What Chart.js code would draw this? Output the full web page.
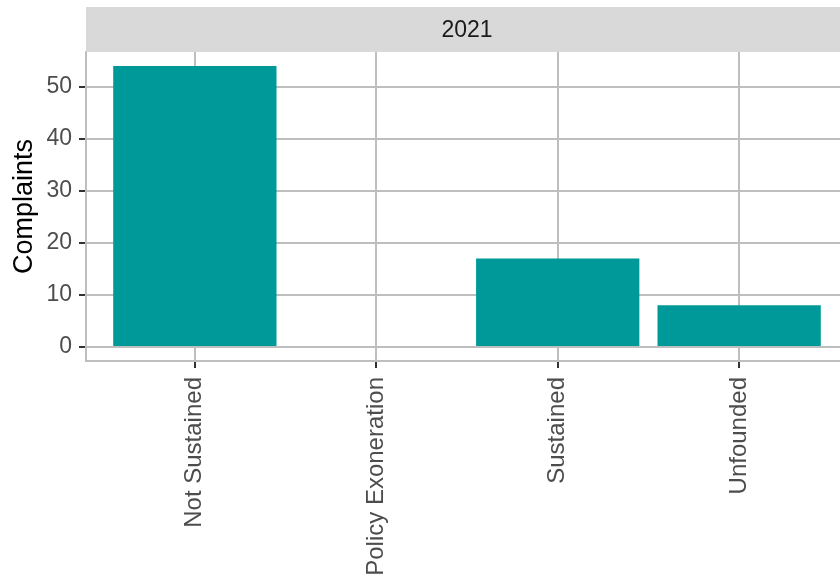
<!DOCTYPE html>
<html>
<head>
<meta charset="utf-8">
<script src="https://cdn.jsdelivr.net/npm/chart.js@4"></script>
<style>
  html, body { margin: 0; padding: 0; overflow: hidden; background: #ffffff; }
  canvas { display: block; }
</style>
</head>
<body>
<canvas id="c" width="850" height="576"></canvas>
<script>
const facetLabel = "2021";
const categories = ["Not Sustained", "Policy Exoneration", "Sustained", "Unfounded"];
const complaints = [54, 0, 17, 8];
const yTicks = [0, 10, 20, 30, 40, 50];

const FONT = "'Liberation Sans', Arial, sans-serif";

const stripPlugin = {
  id: 'strip',
  afterDraw(chart) {
    const ctx = chart.ctx;
    const a = chart.chartArea;
    ctx.save();
    ctx.fillStyle = '#d9d9d9';
    ctx.fillRect(a.left, 7, a.right - a.left, a.top - 7);
    ctx.fillStyle = '#1a1a1a';
    ctx.font = '23px ' + FONT;
    ctx.textAlign = 'center';
    ctx.textBaseline = 'middle';
    ctx.fillText(facetLabel, (a.left + a.right) / 2, (7 + a.top) / 2 + 1);
    ctx.restore();
  }
};

new Chart(document.getElementById('c'), {
  type: 'bar',
  data: {
    datasets: [{
      data: categories.map((c, i) => ({ x: i, y: complaints[i] })),
      backgroundColor: '#009999',
      borderWidth: 0,
      barPercentage: 0.9,
      categoryPercentage: 1.0
    }]
  },
  options: {
    responsive: false,
    animation: false,
    devicePixelRatio: 1,
    layout: { padding: { top: 52, right: 2, left: 0, bottom: 0 } },
    plugins: { legend: { display: false }, tooltip: { enabled: false } },
    scales: {
      x: {
        type: 'linear',
        min: -0.6,
        max: 3.6,
        offset: false,
        afterBuildTicks(scale) { scale.ticks = categories.map((c, i) => ({ value: i })); },
        afterFit(scale) { scale.height = 215; },
        ticks: {
          autoSkip: false,
          minRotation: 90,
          maxRotation: 90,
          padding: 9,
          color: '#4d4d4d',
          font: { family: FONT, size: 24 },
          callback: (v) => categories[v]
        },
        grid: { offset: false, color: '#bebebe', lineWidth: 2, tickColor: '#333333', tickWidth: 2, tickLength: 7 },
        border: { color: '#bebebe', width: 2 }
      },
      y: {
        min: -2.7,
        max: 56.7,
        afterBuildTicks(scale) { scale.ticks = yTicks.map(v => ({ value: v })); },
        afterFit(scale) { scale.width = 86; },
        ticks: {
          padding: 7,
          color: '#4d4d4d',
          font: { family: FONT, size: 23 }
        },
        grid: { color: '#bebebe', lineWidth: 2, tickColor: '#333333', tickWidth: 2, tickLength: 7 },
        border: { color: '#bebebe', width: 2 },
        title: {
          display: true,
          text: 'Complaints',
          color: '#000000',
          font: { family: FONT, size: 27 },
          padding: { top: 8, bottom: 0 }
        }
      }
    }
  },
  plugins: [stripPlugin]
});
</script>
</body>
</html>
